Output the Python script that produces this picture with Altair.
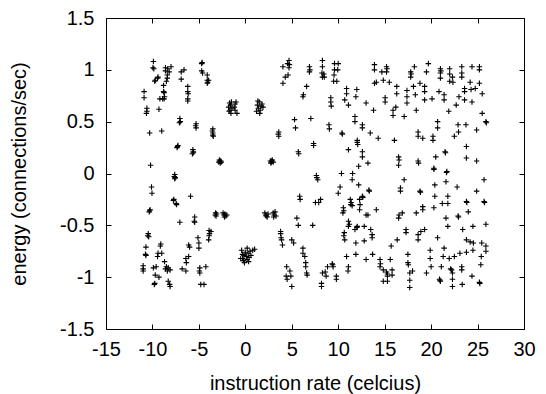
import altair as alt
import pandas as pd

# Scatter points, grouped by x region (x, y)
points_far_left = [
    (-10.9, 0.79), (-10.9, 0.73), (-10.6, 0.63), (-10.6, 0.60), (-10.65, 0.58),
    (-10.3, 0.39), (-10.2, 0.08), (-10.1, -0.13), (-10.05, -0.19),
    (-10.3, -0.36), (-10.35, -0.37), (-10.25, -0.35),
    (-10.45, -0.58), (-10.4, -0.61), (-10.5, -0.60), (-10.7, -0.71),
    (-10.7, -0.79), (-10.75, -0.78), (-11.0, -0.89), (-11.0, -0.92), (-11.0, -0.94),
    (-9.9, 1.08), (-9.95, 1.02), (-9.85, 1.01), (-9.7, 0.90), (-9.75, 0.89),
    (-9.4, 0.93), (-9.45, 0.92), (-9.3, 0.62), (-9.0, 0.41), (-9.2, 0.72), (-8.9, 0.72),
    (-8.8, 0.85), (-8.8, 0.79), (-8.75, 0.78), (-8.7, 0.74), (-8.75, 0.72),
    (-8.6, 1.02), (-8.6, 0.99), (-8.4, 0.95), (-8.4, 0.92), (-8.0, 1.03), (-8.2, 0.98),
    (-8.35, 1.01), (-8.5, 0.89),
    (-9.6, -0.90), (-9.7, -0.98), (-9.8, -1.07), (-9.75, -1.06), (-9.9, -0.91),
    (-9.4, -0.77), (-9.45, -0.80), (-9.1, -0.68), (-9.15, -0.70), (-9.0, -0.77), (-9.3, -1.0),
    (-8.7, -0.85), (-8.5, -0.90), (-8.6, -0.92), (-8.3, -0.91), (-8.4, -0.94), (-8.1, -0.93),
    (-8.3, -1.04), (-8.1, -1.09), (-8.15, -1.07),
]

points_left = [
    (-7.7, -0.25), (-7.75, -0.26), (-7.4, -0.30), (-7.45, -0.29),
    (-7.6, -0.01), (-7.65, -0.03), (-7.55, -0.04), (-7.6, -0.05),
    (-7.3, 0.26), (-7.35, 0.25), (-7.25, 0.27), (-7.05, 0.53), (-7.1, 0.49), (-7.0, 0.50),
    (-7.05, -0.47), (-6.9, 0.98), (-6.6, 1.0), (-6.9, 0.91),
    (-6.8, -0.92), (-6.4, -0.94), (-6.4, -0.82), (-6.35, -0.86), (-6.1, -0.80), (-6.1, -0.69), (-6.0, -0.71),
    (-6.2, 0.84), (-6.2, 0.79), (-6.15, 0.77), (-6.2, 0.72), (-6.2, 0.70),
    (-5.9, -0.22), (-5.65, 0.23), (-5.6, 0.20), (-5.7, 0.19), (-5.6, 0.21),
    (-5.45, -0.42), (-5.45, -0.47), (-5.5, -0.46), (-5.3, 0.48), (-5.3, 0.44), (-5.35, 0.46),
    (-5.1, -0.62), (-5.0, -0.67), (-5.0, -0.72), (-4.9, -0.91), (-4.9, -0.96), (-4.95, -0.94),
    (-4.7, 1.06), (-4.65, 1.07), (-4.7, 0.99), (-4.6, 0.97),
    (-4.25, -0.90), (-4.8, -1.07), (-4.45, -1.07),
    (-4.1, 0.95), (-4.1, 0.90), (-4.1, 0.87), (-3.95, 0.90), (-4.05, 0.88),
    (-3.9, -0.55), (-3.9, -0.60), (-3.95, -0.64), (-3.7, -0.56), (-3.85, -0.58),
    (-3.5, 0.43), (-3.5, 0.39), (-3.45, 0.36), (-3.55, 0.41), (-3.5, 0.37),
    (-3.2, -0.38), (-3.25, -0.40), (-3.1, -0.39), (-3.15, -0.41),
    (-2.75, 0.12), (-2.85, 0.11), (-2.65, 0.12), (-2.7, 0.10), (-2.8, 0.13), (-2.6, 0.11),
    (-2.3, -0.40), (-2.2, -0.39), (-2.1, -0.41), (-2.25, -0.42), (-2.0, -0.40), (-2.4, -0.38),
    (-1.7, 0.68), (-1.6, 0.66), (-1.8, 0.64), (-1.65, 0.61), (-1.55, 0.58), (-1.75, 0.60),
    (-1.5, 0.69), (-1.45, 0.63), (-1.1, 0.67), (-1.1, 0.61), (-1.2, 0.64), (-0.9, 0.58), (-1.0, 0.69),
]

points_center = [
    (-0.4, -0.74), (-0.3, -0.78), (-0.5, -0.82), (-0.2, -0.84), (0.0, -0.76), (0.1, -0.80),
    (0.2, -0.83), (0.3, -0.77), (-0.1, -0.86), (0.4, -0.81), (0.5, -0.75), (0.6, -0.79),
    (0.8, -0.74), (1.0, -0.73), (0.2, -0.72), (-0.3, -0.82), (0.35, -0.85), (-0.15, -0.79),
    (1.3, 0.66), (1.4, 0.63), (1.5, 0.69), (1.6, 0.61), (1.7, 0.65), (1.2, 0.60), (1.8, 0.67),
    (1.55, 0.58), (1.9, 0.64), (1.35, 0.70),
    (2.7, 0.12), (2.8, 0.11), (2.9, 0.13), (3.0, 0.11), (2.75, 0.10), (2.85, 0.12),
    (2.1, -0.38), (2.2, -0.40), (2.35, -0.42), (2.45, -0.39), (2.25, -0.41),
    (3.0, -0.38), (3.1, -0.40), (3.2, -0.37), (3.3, -0.41), (3.05, -0.42),
    (3.6, 0.40), (3.6, 0.36), (3.55, 0.38),
    (3.8, -0.56), (3.85, -0.62), (3.9, -0.64), (3.8, -0.58), (4.0, -0.69),
    (4.05, 1.03), (4.05, 0.87), (4.3, 0.93), (4.55, 1.06), (4.7, 1.09), (4.7, 1.02), (4.75, 1.05), (4.6, 0.95),
    (4.45, -0.90), (4.4, -0.99), (4.8, -0.94), (4.9, -0.99), (5.0, -1.09), (4.5, -1.02),
    (5.0, -0.64), (5.2, -0.67), (5.3, 0.52), (5.4, 0.44), (5.55, -0.43), (5.7, -0.50),
    (5.7, 0.21), (5.75, 0.19), (5.85, -0.22), (5.9, -0.25), (6.25, 0.76), (6.2, 0.74),
    (6.2, -0.72), (6.2, -0.77), (6.4, -0.80), (6.5, -0.86), (6.5, -0.90), (6.6, -0.96), (6.65, -0.98),
    (6.6, 0.84), (6.9, 1.03), (6.9, 0.98), (6.95, 1.0), (7.05, 0.53), (7.25, -0.50),
    (7.35, 0.29), (7.35, 0.27), (7.55, -0.28), (7.9, -0.28),
    (7.65, -0.02), (7.7, -0.04), (7.8, -0.06), (8.1, -0.25),
    (8.3, 1.09), (8.3, 1.03), (8.25, 0.97), (8.3, 0.93), (8.5, 0.93), (8.45, 0.96),
    (8.3, -0.96), (8.2, -1.06), (8.2, -1.09), (8.7, -0.99), (8.85, -0.90), (8.6, -0.95),
    (9.4, -0.88), (9.45, -0.90), (9.35, -0.87),
    (9.6, 1.06), (9.6, 1.0), (9.55, 0.95), (9.5, 0.89), (9.8, -0.99), (9.8, -1.02),
    (10.0, 1.06), (9.95, 1.0), (9.85, 0.89), (9.2, 0.73), (9.2, 0.69), (9.25, 0.65),
    (9.0, 0.47), (9.05, 0.43),
]

points_right = [
    (10.0, -0.19), (10.2, -0.13), (10.35, 0.0), (10.4, 0.39), (10.45, 0.38),
    (10.55, -0.33), (10.5, -0.38), (10.6, -0.36), (10.65, -0.57), (10.7, -0.64), (10.6, -0.60),
    (10.9, -0.80), (10.9, 0.82), (10.9, 0.77), (10.7, 0.71), (11.1, 0.66), (11.1, 0.23),
    (11.1, -0.46), (11.1, -0.51), (11.2, -0.49), (11.1, -0.90), (11.05, -0.94),
    (11.3, -0.25), (11.35, -0.30), (11.4, -0.28), (11.5, -0.31), (11.5, -0.06), (11.55, 0.0),
    (11.8, 0.55), (11.8, 0.50), (11.8, -0.54), (11.9, -0.67), (11.9, -0.78), (12.0, -0.52),
    (12.0, 0.81), (11.9, 0.74), (12.05, 0.32), (12.1, 0.28), (12.05, 0.30),
    (12.2, 0.07), (12.2, -0.11), (12.3, -0.25), (12.3, -0.35), (12.35, -0.30), (12.05, -0.51),
    (12.6, 0.47), (12.6, 0.44), (12.6, 0.21), (12.6, 0.16), (12.6, -0.22), (12.65, -0.23),
    (12.8, -0.51), (12.8, -0.65), (13.0, 0.68), (13.0, -0.40), (13.0, -0.83),
    (13.2, 0.10), (13.3, -0.16), (13.35, -0.17), (13.2, -0.40), (13.45, 0.39),
    (13.65, -0.59), (13.65, -0.62), (13.7, -0.78), (13.5, -0.54), (13.8, 0.61),
    (13.9, 1.05), (13.9, 1.0), (13.9, 0.87), (14.1, 0.88), (14.1, -0.35), (14.3, 0.34),
    (14.5, -0.83), (14.5, -0.90), (14.55, -0.87), (14.7, 0.98), (14.85, 0.90),
    (14.85, -0.93), (14.85, -1.04), (15.05, 0.73), (15.05, 0.69),
    (15.2, 1.03), (15.2, 0.98), (15.25, 1.01), (15.3, -0.97), (15.3, -0.99), (15.3, -1.04), (15.2, -0.95),
    (15.5, 0.88), (15.6, -0.83), (15.7, -0.70), (15.8, -0.93), (15.8, -0.98),
    (15.9, 0.61), (15.9, 0.56), (16.05, 0.32), (16.3, 0.84), (16.3, 0.77), (16.2, 0.64),
    (16.35, -0.64), (16.5, 0.16), (16.5, 0.08), (16.55, 0.13), (16.5, -0.43), (16.55, -0.40),
    (16.7, -0.14), (16.7, -0.17), (16.9, -0.38), (17.1, -0.06), (17.1, 0.55),
    (17.3, -0.54), (17.3, -0.57), (17.4, 0.80), (17.4, 0.74), (17.4, 0.68),
    (17.5, -0.78), (17.5, -0.86), (17.55, -0.88), (17.7, -0.96), (17.7, -1.03), (17.7, -1.10),
    (17.8, 0.98), (17.8, 0.93), (17.85, 0.96), (18.0, -0.94),
]

points_far_right = [
    (18.2, 1.03), (18.1, 0.84), (18.3, 0.76), (18.4, 0.61), (18.4, -0.38),
    (18.6, 0.40), (18.6, 0.36), (18.6, 0.12), (18.65, 0.10), (18.8, -0.17), (18.85, -0.18),
    (18.6, -0.59), (18.6, -0.64), (18.9, -0.56), (18.8, 0.87),
    (19.1, -0.32), (19.1, -0.35), (19.1, 0.34), (19.3, -0.54), (19.3, 0.84), (19.3, 0.79), (19.3, 0.71),
    (19.5, -0.96), (19.5, 0.98), (19.7, 1.06), (19.9, -0.74), (19.9, -0.82), (20.0, -0.90), (20.1, 0.72),
    (20.2, 0.36), (20.2, 0.32), (20.3, 0.05), (20.3, 0.04), (20.4, -0.11), (20.4, -0.22), (20.3, -0.33),
    (20.5, 0.16), (20.7, 0.50), (20.7, 0.44), (20.7, -0.62), (20.85, 0.79),
    (20.9, -1.02), (21.0, -1.04), (20.95, -1.03), (21.0, 1.01), (21.0, 0.97), (21.0, 0.92), (21.05, 0.99),
    (21.1, -0.90), (21.2, -0.29), (21.3, -0.80), (21.4, 0.76), (21.4, 0.71), (21.4, -0.72),
    (21.5, 0.21), (21.55, 0.20), (21.7, 0.02), (21.65, 0.01), (21.6, -0.08),
    (21.6, -0.43), (21.8, -0.51), (21.8, -0.22), (21.8, -0.29), (21.9, 0.60), (21.95, -0.82),
    (22.0, 1.01), (22.0, 0.96), (22.0, 0.89), (22.3, 0.93), (22.35, 0.88),
    (22.3, -0.96), (22.3, -1.02), (22.3, -1.09), (22.2, -0.93), (22.1, -0.92),
    (22.5, -0.80), (22.5, 0.36), (22.7, 0.66), (22.8, -0.13), (22.9, 0.47), (22.95, 0.40),
    (22.9, -0.41), (22.95, -0.42), (23.0, 0.74), (23.1, -0.77),
    (23.3, 1.03), (23.3, 0.97), (23.3, 0.93), (23.3, -0.90), (23.3, -0.93), (23.35, -1.07), (23.4, -0.54),
    (23.6, 0.82), (23.6, 0.79), (23.6, 0.71), (23.75, 0.47), (23.8, 0.26), (23.8, 0.15),
    (23.8, -0.27), (23.85, -0.28), (23.8, -0.64), (23.8, -0.76), (24.0, -0.37), (24.2, -0.66),
    (24.2, 0.88), (24.3, 0.81), (24.4, 0.69), (24.4, 1.03), (24.4, -0.99),
    (24.5, -0.51), (24.5, -0.74), (24.55, -0.67), (24.75, 0.82), (24.9, 0.12), (24.9, -0.17), (24.9, 0.42),
    (25.2, 1.03), (25.2, 1.0), (25.2, 0.87), (25.2, -1.05), (25.25, -1.06),
    (25.35, -0.88), (25.4, -0.80), (25.45, -0.67), (25.5, 0.58), (25.5, 0.77),
    (25.7, -0.27), (25.75, -0.28), (25.7, -0.06), (25.9, 0.50), (25.95, 0.49),
    (25.9, -0.49), (25.9, -0.70), (25.9, -0.75),
]

x_ticks = [-15, -10, -5, 0, 5, 10, 15, 20, 25, 30]
y_ticks = [-1.5, -1, -0.5, 0, 0.5, 1, 1.5]
x_title = "instruction rate (celcius)"
y_title = "energy (connections/sec)"

all_points = points_far_left + points_left + points_center + points_right + points_far_right
df = pd.DataFrame(all_points, columns=["x", "y"])

W, H = 418, 311
FONT = "Liberation Sans"
FS = 20
cross = "M-1,0H1M0,-1V1"

xscale = alt.Scale(domain=[-15, 30], nice=False, zero=False)
yscale = alt.Scale(domain=[-1.5, 1.5], nice=False, zero=False)

common_axis = dict(
    grid=False, domain=False, tickSize=5, tickColor="black", tickWidth=1,
    offset=-5, labelFont=FONT, labelFontSize=FS, labelColor="black",
    labelFlush=False, labelOverlap=False,
    titleFont=FONT, titleFontSize=FS, titleColor="black", titleFontWeight="normal",
    labelExpr="'' + datum.value",
)

pts = alt.Chart(df).mark_point(
    shape=cross, size=30, stroke="black", strokeWidth=1.1, filled=False, opacity=1
).encode(
    x=alt.X("x:Q", scale=xscale, axis=alt.Axis(
        orient="bottom", values=x_ticks, title=x_title, labelPadding=10,
        titleX=W / 2, titleY=65, titleBaseline="alphabetic", titleAnchor="middle",
        **common_axis)),
    y=alt.Y("y:Q", scale=yscale, axis=alt.Axis(
        orient="left", values=y_ticks, title=y_title, labelPadding=12,
        titleX=-86, titleY=H / 2, titleBaseline="alphabetic", titleAngle=270,
        **common_axis)),
)

mirror = alt.Chart(df).mark_point(opacity=0).encode(
    x=alt.X("x:Q", scale=xscale, axis=alt.Axis(
        orient="top", values=x_ticks, title="", labels=False, **common_axis)),
    y=alt.Y("y:Q", scale=yscale, axis=alt.Axis(
        orient="right", values=y_ticks, title="", labels=False, **common_axis)),
)

chart = alt.layer(pts, mirror).resolve_axis(
    x="independent", y="independent"
).properties(
    width=W, height=H,
    autosize=alt.AutoSizeParams(type="none"),
    padding={"left": 106, "top": 18, "right": 22, "bottom": 65},
    background="white",
).configure_view(stroke="black", strokeWidth=1)

chart.save("out.html", embed_options={"renderer": "svg", "actions": False})
